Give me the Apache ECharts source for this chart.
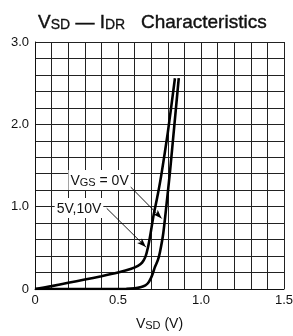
<!DOCTYPE html>
<html>
<head>
<meta charset="utf-8">
<script src="https://cdn.jsdelivr.net/npm/echarts@6/dist/echarts.min.js"></script>
<style>
  html, body { margin: 0; padding: 0; background: #fff; }
  #chart { width: 293px; height: 336px; }
</style>
</head>
<body>
<div id="chart"></div>
<script>
// VGS = 5V, 10V curve
const vsdA = [0, 0.1, 0.2, 0.3, 0.4, 0.5, 0.58, 0.62, 0.645, 0.665, 0.68, 0.695, 0.713, 0.74, 0.763, 0.8, 0.843];
const idrA = [0, 0.035, 0.075, 0.115, 0.155, 0.2, 0.245, 0.28, 0.32, 0.39, 0.5, 0.66, 0.88, 1.15, 1.41, 1.9, 2.56];
// VGS = 0V curve
const vsdB = [0, 0.3, 0.55, 0.6, 0.64, 0.665, 0.68, 0.693, 0.708, 0.723, 0.74, 0.753, 0.773, 0.793, 0.813, 0.84, 0.866];
const idrB = [0, 0, 0.002, 0.008, 0.025, 0.045, 0.07, 0.11, 0.18, 0.27, 0.35, 0.45, 0.68, 1.04, 1.42, 2.0, 2.56];

const xTicks = ['0', '0.5', '1.0', '1.5'];
const yTicks = ['0', '1.0', '2.0', '3.0'];

const FONT = 'Liberation Sans';

function pairs(xs, ys) {
  return xs.map((x, i) => [x, ys[i]]);
}

function tickLabel(list, step) {
  return function (v) {
    const k = Math.round(v / step);
    if (Math.abs(v - k * step) > 1e-6) return '';
    return list[k] || '';
  };
}

const chart = echarts.init(document.getElementById('chart'));

chart.setOption({
  animation: false,
  backgroundColor: '#fff',
  title: {
    left: 33,
    top: 5,
    text: '{b|V}{s|SD}{b| — I}{s|DR}{b|   Characteristics}',
    textStyle: {
      fontWeight: 'normal',
      rich: {
        b: { fontFamily: FONT, fontSize: 19, fontWeight: 'normal', color: '#111', verticalAlign: 'bottom', lineHeight: 22, textBorderColor: '#111', textBorderWidth: 0.4 },
        s: { fontFamily: FONT, fontSize: 14, fontWeight: 'normal', color: '#111', verticalAlign: 'bottom', lineHeight: 20, textBorderColor: '#111', textBorderWidth: 0.3 }
      }
    }
  },
  grid: { left: 35, right: 9, top: 42, bottom: 47, outerBoundsMode: 'none', containLabel: false },
  xAxis: {
    type: 'value',
    min: 0, max: 1.5, interval: 0.1,
    name: '{b|V}{s|SD}{b| (V)}',
    nameLocation: 'middle',
    nameGap: 25,
    nameTextStyle: {
      rich: {
        b: { fontFamily: FONT, fontSize: 14, color: '#111', verticalAlign: 'bottom', lineHeight: 17 },
        s: { fontFamily: FONT, fontSize: 11, color: '#111', verticalAlign: 'bottom', lineHeight: 15 }
      }
    },
    axisLine: { lineStyle: { color: '#111', width: 1 } },
    axisTick: { show: false },
    splitLine: { show: true, lineStyle: { color: '#222', width: 1 } },
    axisLabel: {
      formatter: tickLabel(xTicks, 0.5),
      fontFamily: FONT, fontSize: 13, color: '#111', margin: 5
    }
  },
  yAxis: {
    type: 'value',
    min: 0, max: 3.0, interval: 0.2,
    name: 'I DR (A)',
    nameLocation: 'middle',
    nameRotate: 90,
    nameGap: 27,
    nameTextStyle: { fontFamily: FONT, fontSize: 13, color: '#111' },
    axisLine: { show: true, lineStyle: { color: '#111', width: 1 } },
    axisTick: { show: false },
    splitLine: { show: true, lineStyle: { color: '#222', width: 1 } },
    axisLabel: {
      formatter: tickLabel(yTicks, 1.0),
      fontFamily: FONT, fontSize: 13, color: '#111', margin: 6
    }
  },
  series: [
    {
      name: '5V,10V',
      type: 'line',
      data: pairs(vsdA, idrA),
      smooth: 0.25,
      showSymbol: false,
      lineStyle: { color: '#000', width: 2.6 },
      z: 3
    },
    {
      name: '0V',
      type: 'line',
      data: pairs(vsdB, idrB),
      smooth: 0.25,
      showSymbol: false,
      lineStyle: { color: '#000', width: 2.6 },
      z: 3,
      markLine: {
        silent: true,
        symbol: ['none', 'arrow'],
        symbolSize: [5, 9],
        label: { show: false },
        lineStyle: { color: '#000', width: 0.9, type: 'solid' },
        data: [
          [{ coord: [0.556, 1.28] }, { coord: [0.763, 0.857] }],
          [{ coord: [0.432, 0.98] }, { coord: [0.668, 0.51] }]
        ]
      },
      markPoint: {
        silent: true,
        symbol: 'circle',
        symbolSize: 1,
        itemStyle: { color: 'rgba(0,0,0,0)' },
        label: {
          show: true,
          position: 'inside',
          backgroundColor: '#fff',
          padding: [2, 2, 2, 2],
          rich: {
            b: { fontFamily: FONT, fontSize: 14, color: '#111', verticalAlign: 'bottom', lineHeight: 16 },
            s: { fontFamily: FONT, fontSize: 11, color: '#111', verticalAlign: 'bottom', lineHeight: 14 }
          }
        },
        data: [
          { coord: [0.389, 1.324], value: 0, label: { formatter: '{b|V}{s|GS}{b| = 0V}' } },
          { coord: [0.265, 0.984], value: 0, label: { formatter: '{b|5V,10V}' } }
        ]
      }
    }
  ]
});
</script>
</body>
</html>
